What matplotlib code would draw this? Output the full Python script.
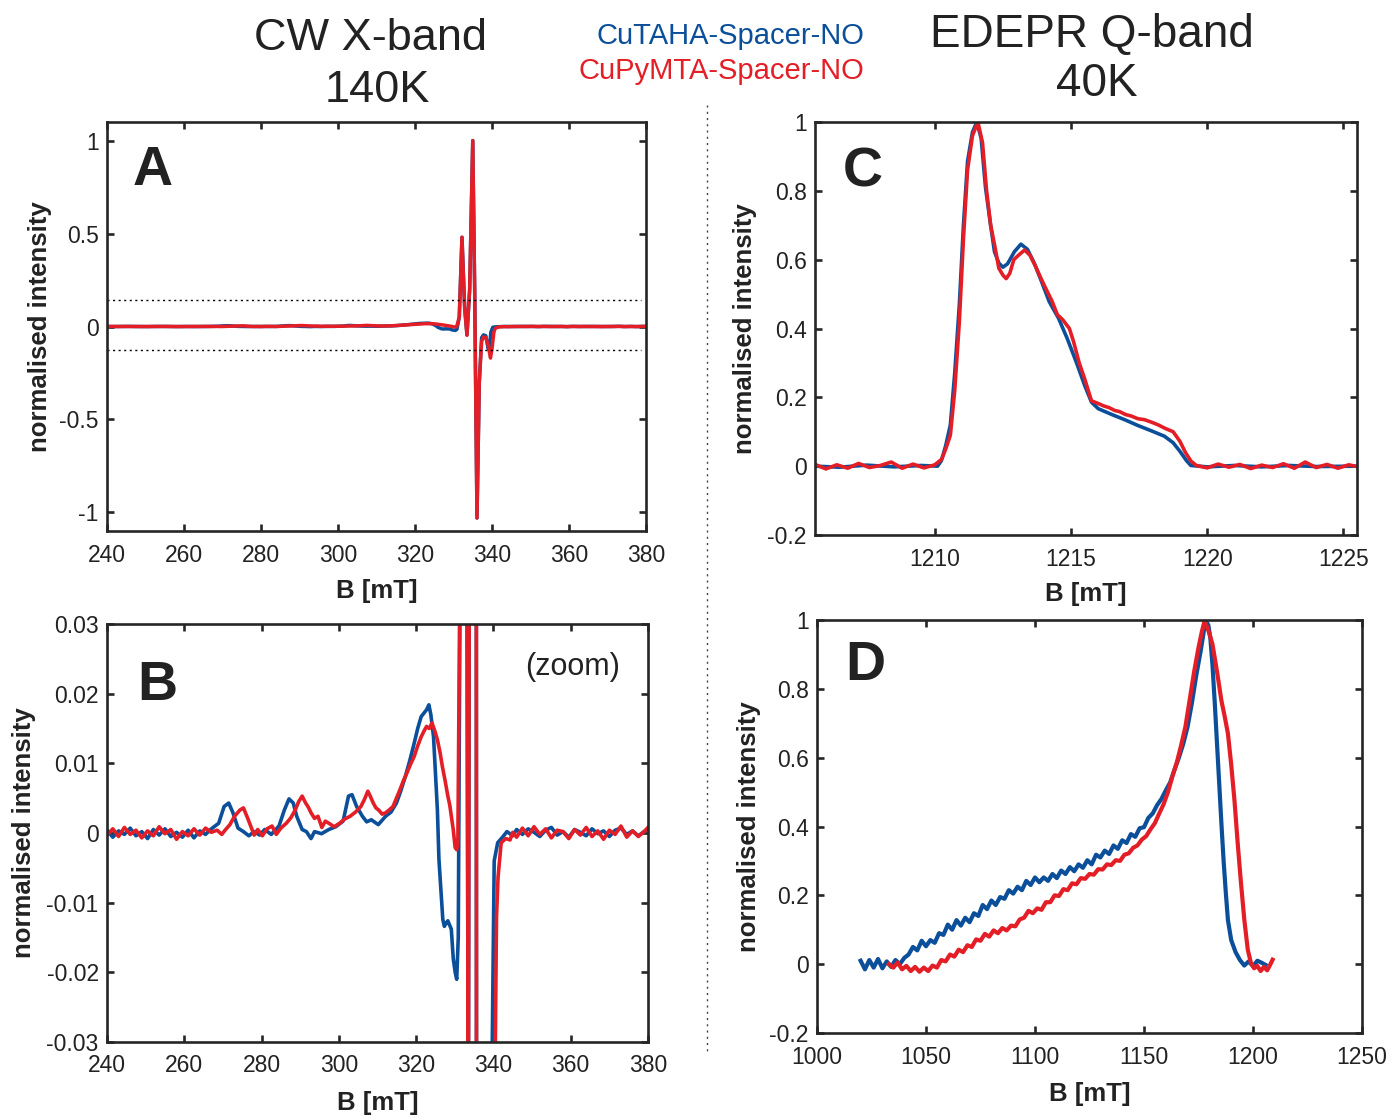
import matplotlib
matplotlib.use('Agg')
import matplotlib.pyplot as plt
from matplotlib import font_manager
from matplotlib.ticker import FuncFormatter
from matplotlib.lines import Line2D

_names = {f.name for f in font_manager.fontManager.ttflist}
NARROW = 'Liberation Sans Narrow' if 'Liberation Sans Narrow' in _names else 'Liberation Sans'
TICK_SIZE = 19 if NARROW == 'Liberation Sans Narrow' else 16.5

plt.rcParams['font.family'] = ['Liberation Sans', 'DejaVu Sans']
plt.rcParams['axes.unicode_minus'] = False

BLUE = '#0b4f9a'
RED = '#e41e26'
DARK = '#262626'

# ---- CW X-band, 140 K (field in mT, normalised intensity) ----
cw_blue = [
    (240.0, 0.0004), (241.5, -0.0006), (243.0, 0.0003), (244.5, -0.0002), (246.0, 0.0007),
    (247.5, -0.0004), (249.0, 0.0002), (250.5, -0.0008), (252.0, 0.0005), (253.5, -0.0003),
    (255.0, 0.0006), (256.5, -0.0005), (258.0, 0.0001), (259.5, -0.0006), (261.0, 0.0004),
    (262.5, -0.0007), (264.0, 0.0003), (265.5, -0.0002), (267.0, 0.0006), (268.9, 0.0014),
    (270.3, 0.0038), (271.5, 0.0043), (272.6, 0.0029), (273.9, 0.0007), (275.3, 0.0002),
    (276.7, -0.0004), (278.1, 0.0002), (279.5, -0.0003), (280.8, 0.0005), (282.5, -0.0002),
    (284.5, 0.0010), (285.9, 0.0033), (287.1, 0.0049), (288.2, 0.0043), (289.1, 0.0024),
    (290.5, 0.0005), (291.6, 0.0002), (292.8, -0.0008), (293.7, 0.0002), (295.5, -0.0001),
    (297.4, 0.0005), (299.2, 0.0009), (301.1, 0.0017), (302.5, 0.0053), (303.4, 0.0055),
    (304.6, 0.0038), (306.1, 0.0024), (307.2, 0.0016), (308.4, 0.0019), (310.2, 0.0012),
    (312.1, 0.0024), (313.5, 0.0030), (314.9, 0.0043), (316.0, 0.0060), (317.2, 0.0081),
    (318.4, 0.0105), (319.5, 0.0129), (320.4, 0.0150), (321.3, 0.0167), (322.0, 0.0172),
    (322.7, 0.0177), (323.3, 0.0184), (323.8, 0.0170), (324.5, 0.0138), (325.5, 0.0033),
    (325.9, -0.0038), (326.4, -0.0081), (326.9, -0.0124), (327.3, -0.0134), (327.8, -0.0129),
    (328.2, -0.0126), (329.1, -0.0138), (329.6, -0.0180), (330.1, -0.0200), (330.5, -0.0210),
    (330.9, -0.0150), (331.5, 0.05), (332.2, 0.48), (332.9, 0.10), (333.5, -0.045),
    (334.2, 0.20), (335.0, 1.0), (335.5, 0.20), (336.1, -1.03), (336.7, -0.30),
    (337.3, -0.06), (337.8, -0.045), (338.4, -0.05), (339.0, -0.12), (339.4, -0.10),
    (339.7, -0.03), (340.2, -0.004), (341.1, -0.0014), (342.5, -0.0005), (343.5, 0.0002),
    (345.0, -0.0004), (346.0, 0.0005), (347.5, -0.0002), (349.0, 0.0006), (350.5, 0.0001),
    (352.0, -0.0005), (353.5, 0.0004), (355.0, 0.0008), (356.5, -0.0003), (358.0, 0.0002),
    (359.5, -0.0006), (361.0, 0.0005), (362.5, 0.0001), (364.0, -0.0004), (365.5, 0.0006),
    (367.0, -0.0001), (368.5, 0.0003), (370.0, -0.0005), (371.5, 0.0004), (373.0, 0.0007),
    (374.5, -0.0002), (376.0, 0.0003), (377.5, -0.0004), (379.0, 0.0002), (380.0, 0.0006),
]

cw_red = [
    (240.0, -0.0003), (241.5, 0.0006), (243.0, -0.0005), (244.5, 0.0008), (246.0, -0.0002),
    (247.5, 0.0004), (249.0, -0.0007), (250.5, 0.0003), (252.0, -0.0004), (253.5, 0.0009),
    (255.0, -0.0001), (256.5, 0.0005), (258.0, -0.0009), (259.5, 0.0002), (261.0, -0.0004),
    (262.5, 0.0006), (264.0, -0.0003), (265.5, 0.0007), (267.0, 0.0001), (268.5, 0.0004),
    (269.7, -0.0002), (270.7, 0.0005), (271.8, 0.0012), (273.0, 0.0024), (274.4, 0.0033),
    (275.3, 0.0036), (276.2, 0.0024), (277.2, 0.0010), (278.1, -0.0003), (279.0, 0.0005),
    (280.2, -0.0004), (281.4, 0.0006), (282.7, 0.0010), (283.8, -0.0002), (285.0, 0.0007),
    (286.4, 0.0014), (287.6, 0.0022), (288.7, 0.0033), (289.6, 0.0045), (290.5, 0.0053),
    (291.4, 0.0043), (292.1, 0.0037), (292.8, 0.0029), (293.7, 0.0021), (294.6, 0.0024),
    (295.6, 0.0008), (296.5, 0.0017), (297.4, 0.0014), (298.8, 0.0009), (300.2, 0.0014),
    (301.5, 0.0020), (302.9, 0.0024), (304.3, 0.0030), (305.7, 0.0038), (306.6, 0.0048),
    (307.5, 0.0060), (308.2, 0.0052), (308.9, 0.0043), (309.6, 0.0036), (310.3, 0.0033),
    (311.2, 0.0027), (312.1, 0.0029), (313.0, 0.0033), (314.0, 0.0038), (314.9, 0.0050),
    (315.8, 0.0062), (316.7, 0.0075), (317.6, 0.0086), (318.5, 0.0098), (319.5, 0.0110),
    (320.4, 0.0125), (321.3, 0.0138), (322.0, 0.0146), (322.7, 0.0153), (323.4, 0.0150),
    (324.1, 0.0158), (324.8, 0.0147), (325.5, 0.0134), (326.2, 0.0115), (326.8, 0.0095),
    (327.5, 0.0075), (328.2, 0.0053), (328.7, 0.0040), (329.1, 0.0024), (329.6, 0.0005),
    (330.1, -0.0021), (330.5, -0.0024), (330.8, -0.0014), (331.5, 0.05), (332.2, 0.48),
    (332.9, 0.10), (333.5, -0.047), (334.2, 0.20), (335.0, 1.0), (335.5, 0.20),
    (336.1, -1.03), (336.7, -0.30), (337.3, -0.08), (337.8, -0.056), (338.4, -0.06),
    (339.0, -0.10), (339.6, -0.17), (340.0, -0.12), (340.5, -0.03), (340.8, -0.012),
    (341.2, -0.0063), (342.0, -0.0014), (343.2, -0.0008), (344.3, -0.0010), (345.0, 0.0001),
    (346.0, -0.0006), (347.5, 0.0007), (349.0, -0.0004), (350.5, 0.0009), (352.0, -0.0002),
    (353.5, 0.0006), (355.0, -0.0007), (356.5, 0.0004), (358.0, 0.0002), (359.5, -0.0008),
    (361.0, 0.0005), (362.5, -0.0003), (364.0, 0.0008), (365.5, -0.0005), (367.0, 0.0003),
    (368.5, -0.0009), (370.0, 0.0004), (371.5, -0.0002), (373.0, 0.0010), (374.5, -0.0006),
    (376.0, 0.0003), (377.5, -0.0005), (379.0, 0.0002), (380.0, 0.0008),
]

# ---- EDEPR Q-band, 40 K, panel C ----
ed_c_blue = [
    (1205.6, 0.0), (1206.5, -0.003), (1207.5, 0.003), (1208.5, -0.002), (1209.5, 0.002),
    (1210.1, 0.0), (1210.24, 0.016), (1210.4, 0.06), (1210.57, 0.12), (1210.73, 0.27),
    (1210.9, 0.47), (1211.05, 0.70), (1211.2, 0.885), (1211.38, 0.97), (1211.54, 1.0),
    (1211.7, 0.953), (1211.86, 0.81), (1212.03, 0.71), (1212.19, 0.623), (1212.35, 0.59),
    (1212.5, 0.578), (1212.67, 0.588), (1212.92, 0.623), (1213.16, 0.645), (1213.4, 0.63),
    (1213.65, 0.59), (1213.9, 0.54), (1214.2, 0.478), (1214.54, 0.43), (1214.86, 0.371),
    (1215.19, 0.303), (1215.5, 0.235), (1215.75, 0.186), (1216.0, 0.167), (1216.5, 0.15),
    (1216.97, 0.135), (1217.46, 0.118), (1217.94, 0.103), (1218.43, 0.087), (1218.75, 0.068),
    (1219.0, 0.043), (1219.24, 0.016), (1219.4, 0.002), (1220.0, -0.002), (1221.0, 0.002),
    (1222.0, -0.002), (1223.0, 0.002), (1224.0, -0.001), (1225.6, 0.0),
]

ed_c_red = [
    (1205.6, 0.005), (1206.0, -0.008), (1206.4, 0.004), (1206.8, -0.006), (1207.2, 0.008),
    (1207.6, -0.004), (1208.0, 0.002), (1208.4, 0.012), (1208.8, -0.006), (1209.2, 0.006),
    (1209.6, -0.005), (1210.0, 0.004), (1210.25, 0.02), (1210.4, 0.05), (1210.57, 0.09),
    (1210.73, 0.22), (1210.9, 0.42), (1211.05, 0.66), (1211.2, 0.86), (1211.38, 0.96),
    (1211.58, 1.0), (1211.75, 0.94), (1211.9, 0.80), (1212.05, 0.70), (1212.2, 0.64),
    (1212.35, 0.575), (1212.5, 0.555), (1212.62, 0.545), (1212.75, 0.56), (1212.9, 0.60),
    (1213.1, 0.615), (1213.3, 0.628), (1213.5, 0.612), (1213.7, 0.58), (1213.9, 0.545),
    (1214.05, 0.52), (1214.3, 0.48), (1214.5, 0.44), (1214.7, 0.425), (1214.94, 0.40),
    (1215.1, 0.36), (1215.3, 0.30), (1215.5, 0.254), (1215.75, 0.19), (1216.0, 0.182),
    (1216.2, 0.175), (1216.4, 0.17), (1216.6, 0.162), (1216.8, 0.158), (1217.0, 0.15),
    (1217.2, 0.146), (1217.45, 0.138), (1217.7, 0.135), (1217.95, 0.128), (1218.2, 0.12),
    (1218.45, 0.11), (1218.75, 0.10), (1219.0, 0.072), (1219.2, 0.04), (1219.4, 0.015),
    (1219.6, 0.002), (1220.0, -0.005), (1220.4, 0.006), (1220.8, -0.003), (1221.2, 0.005),
    (1221.6, -0.007), (1222.0, 0.003), (1222.4, -0.004), (1222.8, 0.007), (1223.2, -0.006),
    (1223.6, 0.012), (1224.0, -0.004), (1224.4, 0.005), (1224.8, -0.006), (1225.2, 0.004),
    (1225.6, -0.003),
]

# ---- EDEPR Q-band, panel D ----
ed_d_blue = [
    (1020, 0.010), (1022, -0.015), (1024, 0.012), (1026, -0.010), (1028, 0.015), (1030, -0.012),
    (1032, 0.008), (1034, -0.008), (1036, 0.012), (1038, 0.000), (1040, 0.018), (1042, 0.028),
    (1044, 0.050), (1046, 0.040), (1048, 0.068), (1050, 0.052), (1052, 0.070), (1054, 0.062),
    (1056, 0.090), (1058, 0.085), (1060, 0.115), (1062, 0.100), (1064, 0.128), (1066, 0.112),
    (1068, 0.135), (1070, 0.122), (1072, 0.148), (1074, 0.140), (1076, 0.172), (1078, 0.160),
    (1080, 0.185), (1082, 0.172), (1084, 0.195), (1086, 0.190), (1088, 0.215), (1090, 0.205),
    (1092, 0.225), (1094, 0.215), (1096, 0.242), (1098, 0.230), (1100, 0.252), (1102, 0.238),
    (1104, 0.252), (1106, 0.242), (1108, 0.262), (1110, 0.250), (1112, 0.272), (1114, 0.262),
    (1116, 0.282), (1118, 0.270), (1120, 0.290), (1122, 0.280), (1124, 0.302), (1126, 0.290),
    (1128, 0.318), (1130, 0.310), (1132, 0.330), (1134, 0.320), (1136, 0.345), (1138, 0.335),
    (1140, 0.360), (1142, 0.352), (1144, 0.378), (1146, 0.370), (1148, 0.395), (1150, 0.398),
    (1152, 0.425), (1154, 0.438), (1156, 0.462), (1158, 0.480), (1160, 0.505), (1162, 0.528),
    (1164, 0.565), (1166, 0.600), (1168, 0.640), (1170, 0.690), (1172, 0.760), (1174, 0.840),
    (1176, 0.910), (1177.5, 0.970), (1178.4, 0.998), (1179.5, 0.985), (1180.4, 0.950),
    (1181.4, 0.870), (1182.4, 0.766), (1183.5, 0.640), (1184.5, 0.525), (1185.5, 0.410),
    (1186.5, 0.302), (1187.5, 0.210), (1188.5, 0.128), (1190, 0.070), (1192, 0.035),
    (1194, 0.012), (1196, -0.004), (1198, 0.008), (1200, -0.006), (1202, 0.010),
    (1204, 0.004), (1205.7, -0.002),
]

ed_d_red = [
    (1033, 0.000), (1035, -0.010), (1037, 0.005), (1039, -0.015), (1041, -0.005), (1043, -0.020),
    (1045, -0.008), (1047, -0.022), (1049, -0.010), (1051, -0.020), (1053, -0.004), (1055, -0.010),
    (1057, 0.012), (1059, 0.008), (1061, 0.028), (1063, 0.022), (1065, 0.042), (1067, 0.035),
    (1069, 0.055), (1071, 0.050), (1073, 0.072), (1075, 0.068), (1077, 0.088), (1079, 0.080),
    (1081, 0.098), (1083, 0.090), (1085, 0.105), (1087, 0.098), (1089, 0.112), (1091, 0.110),
    (1093, 0.130), (1095, 0.135), (1097, 0.155), (1099, 0.148), (1101, 0.162), (1103, 0.158),
    (1105, 0.180), (1107, 0.180), (1109, 0.200), (1111, 0.198), (1113, 0.218), (1115, 0.215),
    (1117, 0.235), (1119, 0.232), (1121, 0.250), (1123, 0.248), (1125, 0.262), (1127, 0.260),
    (1129, 0.276), (1131, 0.275), (1133, 0.290), (1135, 0.288), (1137, 0.302), (1139, 0.300),
    (1141, 0.318), (1143, 0.322), (1145, 0.338), (1147, 0.345), (1149, 0.362), (1151, 0.372),
    (1153, 0.392), (1155, 0.410), (1157, 0.438), (1159, 0.465), (1161, 0.500), (1163, 0.545),
    (1165, 0.585), (1167, 0.635), (1169, 0.690), (1171, 0.770), (1173, 0.850), (1175, 0.920),
    (1176.5, 0.965), (1177.8, 0.998), (1179.5, 0.970), (1181.4, 0.930), (1183.5, 0.850),
    (1185.5, 0.766), (1187, 0.720), (1188.5, 0.670), (1190, 0.580), (1191.5, 0.476),
    (1193, 0.350), (1194.5, 0.235), (1196, 0.130), (1197.6, 0.042), (1199, 0.005),
    (1200.5, -0.012), (1202, -0.005), (1203.5, -0.020), (1205, -0.008), (1206.5, -0.018),
    (1208, 0.000), (1209, 0.013),
]

W, H = 1393, 1118


def px_axes(fig, l, t, r, b):
    return fig.add_axes([l / W, 1 - b / H, (r - l) / W, (b - t) / H])


def style(ax, letter, lpos, ylab_x, xlab_y):
    for s in ax.spines.values():
        s.set_linewidth(1.9)
        s.set_color(DARK)
    ax.tick_params(direction='in', top=True, right=True, length=5, width=1.9,
                   color=DARK, labelcolor='#222222', labelsize=TICK_SIZE)
    ax.tick_params(axis='x', pad=9)
    ax.tick_params(axis='y', pad=6)
    for lab in ax.get_xticklabels() + ax.get_yticklabels():
        lab.set_family([NARROW, 'Liberation Sans'])
    ax.yaxis.set_major_formatter(FuncFormatter(lambda v, p: '%g' % round(v, 6)))
    ax.set_xlabel('B [mT]', fontsize=18.5, fontweight='bold', color='#222222')
    ax.set_ylabel('normalised intensity', fontsize=18.5, fontweight='bold', color='#222222')
    ax.xaxis.set_label_coords(0.5, xlab_y)
    ax.yaxis.set_label_coords(ylab_x, 0.5)
    ax.text(lpos[0], lpos[1], letter, transform=ax.transAxes, fontsize=40,
            fontweight='bold', color='#222222', va='baseline', ha='left')


def draw(ax, blue, red, lw):
    ax.plot([p[0] for p in blue], [p[1] for p in blue], color=BLUE, lw=lw)
    ax.plot([p[0] for p in red], [p[1] for p in red], color=RED, lw=lw)


fig = plt.figure(figsize=(W / 100, H / 100), dpi=100)

# A
axA = px_axes(fig, 107, 122, 646, 531)
draw(axA, cw_blue, cw_red, 2.5)
axA.axhline(0.14, xmin=0, xmax=0.99, color='k', ls=(0, (1.5, 2.5)), lw=1)
axA.axhline(-0.125, xmin=0, xmax=0.99, color='k', ls=(0, (1.5, 2.5)), lw=1)
axA.set_xlim(240, 380)
axA.set_ylim(-1.1, 1.1)
axA.set_xticks(range(240, 381, 20))
axA.set_yticks([-1, -0.5, 0, 0.5, 1])
style(axA, 'A', (0.048, 0.846), -0.102, -0.118)

# B
axB = px_axes(fig, 107, 624, 648, 1042)
draw(axB, cw_blue, cw_red, 2.6)
axB.set_xlim(240, 380)
axB.set_ylim(-0.03, 0.03)
axB.set_xticks(range(240, 381, 20))
axB.set_yticks([-0.03, -0.02, -0.01, 0, 0.01, 0.02, 0.03])
style(axB, 'B', (0.055, 0.818), -0.131, -0.118)
axB.text(0.948, 0.897, '(zoom)', transform=axB.transAxes, fontsize=22,
         color='#222222', ha='right', va='center')

# C
axC = px_axes(fig, 815, 122, 1357, 535)
draw(axC, ed_c_blue, ed_c_red, 2.6)
axC.set_xlim(1205.6, 1225.5)
axC.set_ylim(-0.2, 1.0)
axC.set_xticks([1210, 1215, 1220, 1225])
axC.set_yticks([-0.2, 0, 0.2, 0.4, 0.6, 0.8, 1])
style(axC, 'C', (0.052, 0.843), -0.107, -0.114)

# D
axD = px_axes(fig, 817, 620, 1362, 1033)
draw(axD, ed_d_blue, ed_d_red, 3.0)
axD.set_xlim(1000, 1250)
axD.set_ylim(-0.2, 1.0)
axD.set_xticks(range(1000, 1251, 50))
axD.set_yticks([-0.2, 0, 0.2, 0.4, 0.6, 0.8, 1])
style(axD, 'D', (0.051, 0.855), -0.103, -0.119)

# headings and legend text
fig.text(370 / W, 1 - 39 / H, 'CW X-band', fontsize=32.5, color='#222222', ha='center', va='center')
fig.text(377 / W, 1 - 90 / H, '140K', fontsize=32.5, color='#222222', ha='center', va='center')
fig.text(1092 / W, 1 - 35 / H, 'EDEPR Q-band', fontsize=33, color='#222222', ha='center', va='center')
fig.text(1097 / W, 1 - 84 / H, '40K', fontsize=33, color='#222222', ha='center', va='center')
fig.text(864 / W, 1 - 36 / H, 'CuTAHA-Spacer-NO', fontsize=21, color=BLUE, ha='right', va='center')
fig.text(864 / W, 1 - 71 / H, 'CuPyMTA-Spacer-NO', fontsize=21, color=RED, ha='right', va='center')

# dotted separator between the two columns
fig.add_artist(Line2D([707 / W, 707 / W], [1 - 105 / H, 1 - 1055 / H], transform=fig.transFigure,
                      color='#444444', lw=1, ls=(0, (1.5, 3))))

fig.savefig('out.png', dpi=100)
